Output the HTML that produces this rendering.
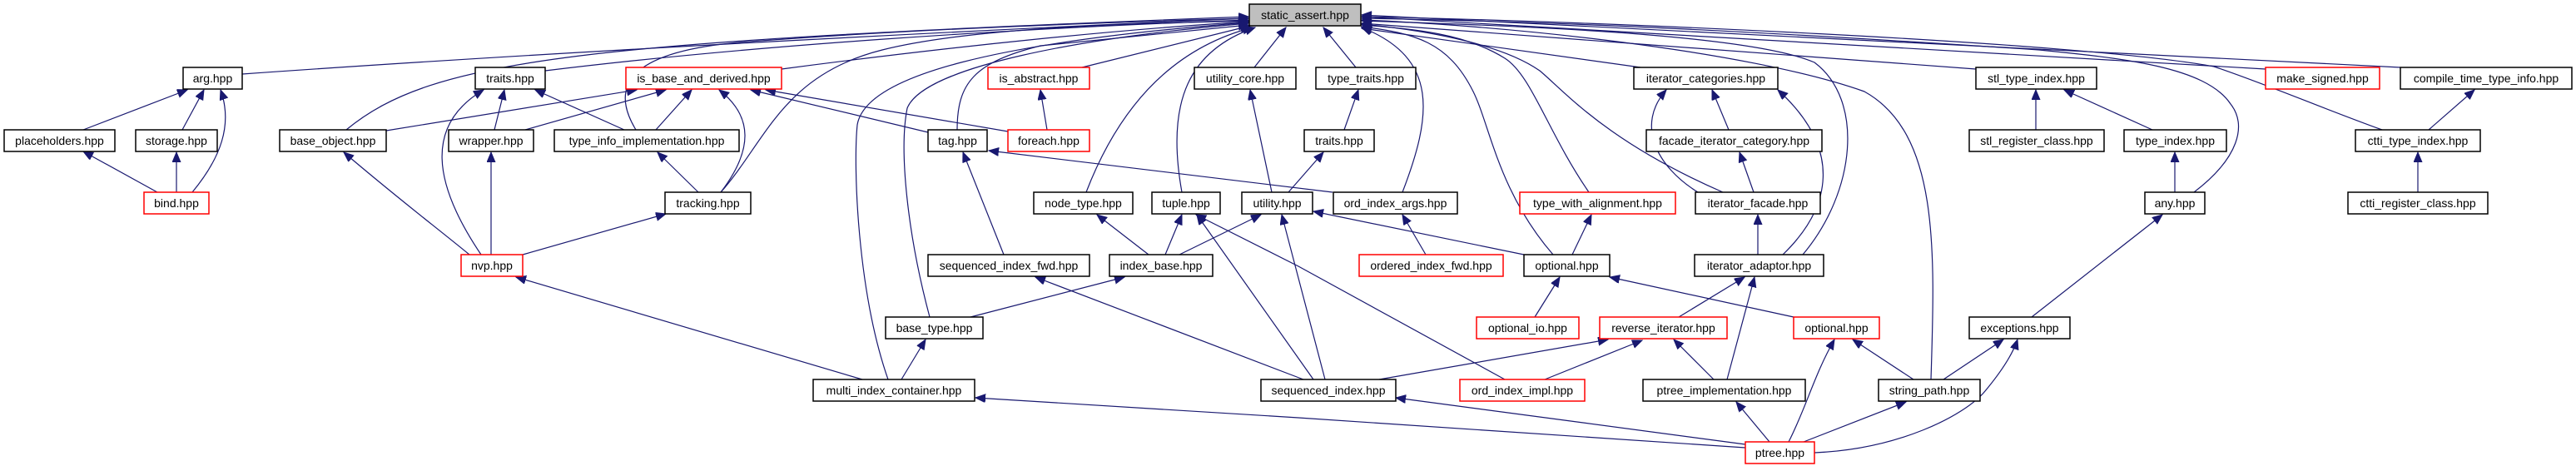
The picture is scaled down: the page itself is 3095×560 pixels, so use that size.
<!DOCTYPE html>
<html><head><meta charset="utf-8"><style>
html,body{margin:0;padding:0;background:#fff;}
svg{display:block;}
text{font-family:"Liberation Sans","DejaVu Sans",sans-serif;font-size:14px;fill:#000;text-anchor:middle;}
.b{fill:#fff;stroke:#000;stroke-width:1.5;}
.r{fill:#fff;stroke:#ff0000;stroke-width:1.5;}
.e{fill:none;stroke:#191970;stroke-width:1.2;marker-end:url(#a);}
</style></head><body>
<svg width="3095" height="560" viewBox="0 0 3095 560" xmlns="http://www.w3.org/2000/svg">
<defs><marker id="a" markerUnits="userSpaceOnUse" markerWidth="14" markerHeight="12" refX="12" refY="5" orient="auto"><path d="M0,0 L12,5 L0,10 z" fill="#191970" stroke="#191970"/></marker></defs>
<g>
<!-- edges to static_assert -->
<path class="e" d="M291,89 C700,60 1200,35 1500,22"/>
<path class="e" d="M655,85 C900,55 1200,35 1500,24"/>
<path class="e" d="M416,156 C520,70 700,50 1500,20"/>
<path class="e" d="M939,83 C1150,55 1350,35 1500,26"/>
<path class="e" d="M764,156 C730,100 760,60 900,50 C1100,35 1300,28 1500,22"/>
<path class="e" d="M866,231 C920,170 940,90 1060,60 S1400,28 1500,25"/>
<path class="e" d="M1067,456 C1030,350 1025,200 1030,150 C1040,90 1200,50 1500,27"/>
<path class="e" d="M1117,381 C1090,280 1080,180 1090,130 C1110,80 1300,45 1500,28"/>
<path class="e" d="M1150,156 C1150,100 1170,75 1250,55 L1500,30"/>
<path class="e" d="M1300,81 L1502,31"/>
<path class="e" d="M1305,231 C1340,140 1400,60 1505,33"/>
<path class="e" d="M1420,231 C1400,120 1430,60 1508,33"/>
<path class="e" d="M1507,81 L1545,33"/>
<path class="e" d="M1629,81 L1590,33"/>
<path class="e" d="M1685,231 C1720,140 1730,70 1636,33"/>
<path class="e" d="M1866,306 C1800,230 1790,150 1770,110 C1740,50 1700,40 1636,32"/>
<path class="e" d="M1909,231 C1860,160 1840,90 1808,70 C1760,40 1700,35 1636,30"/>
<path class="e" d="M2070,231 C1930,170 1880,110 1850,85 C1800,50 1700,35 1636,29"/>
<path class="e" d="M1971,81 L1636,34"/>
<path class="e" d="M2166,306 C2230,230 2240,120 2180,75 C2100,40 1800,30 1636,25"/>
<path class="e" d="M2320,456 C2325,300 2330,160 2240,110 C2100,60 1800,30 1636,24"/>
<path class="e" d="M2374,83 L1636,28"/>
<path class="e" d="M2636,231 C2690,190 2700,150 2680,125 C2650,80 2550,70 2450,60 C2000,30 1800,25 1636,22"/>
<path class="e" d="M2722,83 L1636,20"/>
<path class="e" d="M2862,156 C2790,130 2720,100 2660,80 C2500,50 1900,25 1636,20"/>
<path class="e" d="M2884,81 L1636,18"/>
<!-- other edges -->
<path class="e" d="M100,156 L225,108"/>
<path class="e" d="M219,156 L245,108"/>
<path class="e" d="M231,231 C265,190 280,150 265,108"/>
<path class="e" d="M189,231 L100,182"/>
<path class="e" d="M212,231 L212,183"/>
<path class="e" d="M464,157 L765,108"/>
<path class="e" d="M594,156 L606,108"/>
<path class="e" d="M631,156 L800,108"/>
<path class="e" d="M750,156 L643,108"/>
<path class="e" d="M788,156 L831,108"/>
<path class="e" d="M578,306 C520,220 510,150 581,108"/>
<path class="e" d="M590,306 L590,183"/>
<path class="e" d="M564,306 C520,270 480,240 413,183"/>
<path class="e" d="M628,306 L800,257"/>
<path class="e" d="M839,231 L790,183"/>
<path class="e" d="M866,231 C905,180 905,140 864,108"/>
<path class="e" d="M1115,159 L902,108"/>
<path class="e" d="M1211,158 L920,108"/>
<path class="e" d="M1258,156 L1250,108"/>
<path class="e" d="M1206,306 L1157,183"/>
<path class="e" d="M1601,231 L1188,181"/>
<path class="e" d="M1380,306 L1318,258"/>
<path class="e" d="M1400,306 L1420,258"/>
<path class="e" d="M1417,306 L1515,258"/>
<path class="e" d="M1166,381 L1351,333"/>
<path class="e" d="M1083,456 L1112,408"/>
<path class="e" d="M1036,456 L620,333"/>
<path class="e" d="M2097,538 L1560,502 L1172,478"/>
<path class="e" d="M1566,456 L1244,333"/>
<path class="e" d="M1578,456 L1438,258"/>
<path class="e" d="M1592,456 L1540,258"/>
<path class="e" d="M1808,456 L1560,320 L1437,258"/>
<path class="e" d="M2097,534 L1677,478"/>
<path class="e" d="M1528,231 L1502,108"/>
<path class="e" d="M1548,231 L1590,183"/>
<path class="e" d="M1615,156 L1632,108"/>
<path class="e" d="M1831,306 L1578,254"/>
<path class="e" d="M1889,306 L1912,258"/>
<path class="e" d="M1713,306 L1685,258"/>
<path class="e" d="M1844,381 L1874,333"/>
<path class="e" d="M2155,381 L1934,333"/>
<path class="e" d="M2017,381 L2096,333"/>
<path class="e" d="M1657,456 L1932,408"/>
<path class="e" d="M1856,456 L1973,409"/>
<path class="e" d="M2059,456 L2011,408"/>
<path class="e" d="M2075,456 L2108,333"/>
<path class="e" d="M2126,531 L2086,483"/>
<path class="e" d="M2149,531 C2170,490 2180,450 2204,408"/>
<path class="e" d="M2299,456 L2226,408"/>
<path class="e" d="M2167,531 L2290,483"/>
<path class="e" d="M2180,544 C2280,540 2360,500 2385,470 C2410,440 2420,420 2424,408"/>
<path class="e" d="M2335,456 L2407,408"/>
<path class="e" d="M2441,381 L2598,258"/>
<path class="e" d="M2040,231 C1990,200 1965,150 2002,108"/>
<path class="e" d="M2107,231 L2090,183"/>
<path class="e" d="M2077,156 L2057,108"/>
<path class="e" d="M2112,306 L2112,258"/>
<path class="e" d="M2142,306 C2200,250 2215,180 2136,108"/>
<path class="e" d="M2446,156 L2446,108"/>
<path class="e" d="M2586,156 L2480,108"/>
<path class="e" d="M2613,231 L2613,183"/>
<path class="e" d="M2918,156 L2973,108"/>
<path class="e" d="M2905,231 L2905,183"/>
</g>
<g>
<rect x="1501" y="5" width="134" height="26" fill="#bfbfbf" stroke="#000" stroke-width="1.5"/><text x="1568" y="23">static_assert.hpp</text>
<rect class="b" x="220" y="81" width="71" height="26"/><text x="255.5" y="99">arg.hpp</text>
<rect class="b" x="571" y="81" width="84" height="26"/><text x="613" y="99">traits.hpp</text>
<rect class="r" x="752" y="81" width="187" height="26"/><text x="845.5" y="99">is_base_and_derived.hpp</text>
<rect class="r" x="1187" y="81" width="122" height="26"/><text x="1248" y="99">is_abstract.hpp</text>
<rect class="b" x="1435" y="81" width="122" height="26"/><text x="1496" y="99">utility_core.hpp</text>
<rect class="b" x="1581" y="81" width="120" height="26"/><text x="1641" y="99">type_traits.hpp</text>
<rect class="b" x="1963" y="81" width="173" height="26"/><text x="2049.5" y="99">iterator_categories.hpp</text>
<rect class="b" x="2374" y="81" width="145" height="26"/><text x="2446.5" y="99">stl_type_index.hpp</text>
<rect class="r" x="2722" y="81" width="137" height="26"/><text x="2790.5" y="99">make_signed.hpp</text>
<rect class="b" x="2884" y="81" width="206" height="26"/><text x="2987" y="99">compile_time_type_info.hpp</text>

<rect class="b" x="5" y="156" width="133" height="26"/><text x="71.5" y="174">placeholders.hpp</text>
<rect class="b" x="163" y="156" width="98" height="26"/><text x="212" y="174">storage.hpp</text>
<rect class="b" x="336" y="156" width="128" height="26"/><text x="400" y="174">base_object.hpp</text>
<rect class="b" x="539" y="156" width="102" height="26"/><text x="590" y="174">wrapper.hpp</text>
<rect class="b" x="666" y="156" width="222" height="26"/><text x="777" y="174">type_info_implementation.hpp</text>
<rect class="b" x="1115" y="156" width="71" height="26"/><text x="1150.5" y="174">tag.hpp</text>
<rect class="r" x="1211" y="156" width="98" height="26"/><text x="1260" y="174">foreach.hpp</text>
<rect class="b" x="1567" y="156" width="84" height="26"/><text x="1609" y="174">traits.hpp</text>
<rect class="b" x="1978" y="156" width="211" height="26"/><text x="2083.5" y="174">facade_iterator_category.hpp</text>
<rect class="b" x="2366" y="156" width="162" height="26"/><text x="2447" y="174">stl_register_class.hpp</text>
<rect class="b" x="2552" y="156" width="123" height="26"/><text x="2613.5" y="174">type_index.hpp</text>
<rect class="b" x="2830" y="156" width="150" height="26"/><text x="2905" y="174">ctti_type_index.hpp</text>

<rect class="r" x="173" y="231" width="78" height="26"/><text x="212" y="249">bind.hpp</text>
<rect class="b" x="799" y="231" width="103" height="26"/><text x="850.5" y="249">tracking.hpp</text>
<rect class="b" x="1242" y="231" width="119" height="26"/><text x="1301.5" y="249">node_type.hpp</text>
<rect class="b" x="1384" y="231" width="82" height="26"/><text x="1425" y="249">tuple.hpp</text>
<rect class="b" x="1492" y="231" width="85" height="26"/><text x="1534.5" y="249">utility.hpp</text>
<rect class="b" x="1602" y="231" width="149" height="26"/><text x="1676.5" y="249">ord_index_args.hpp</text>
<rect class="r" x="1826" y="231" width="187" height="26"/><text x="1919.5" y="249">type_with_alignment.hpp</text>
<rect class="b" x="2037" y="231" width="150" height="26"/><text x="2112" y="249">iterator_facade.hpp</text>
<rect class="b" x="2577" y="231" width="72" height="26"/><text x="2613" y="249">any.hpp</text>
<rect class="b" x="2821" y="231" width="168" height="26"/><text x="2905" y="249">ctti_register_class.hpp</text>

<rect class="r" x="554" y="306" width="74" height="26"/><text x="591" y="324">nvp.hpp</text>
<rect class="b" x="1115" y="306" width="194" height="26"/><text x="1212" y="324">sequenced_index_fwd.hpp</text>
<rect class="b" x="1333" y="306" width="124" height="26"/><text x="1395" y="324">index_base.hpp</text>
<rect class="r" x="1633" y="306" width="173" height="26"/><text x="1719.5" y="324">ordered_index_fwd.hpp</text>
<rect class="b" x="1831" y="306" width="103" height="26"/><text x="1882.5" y="324">optional.hpp</text>
<rect class="b" x="2036" y="306" width="155" height="26"/><text x="2113.5" y="324">iterator_adaptor.hpp</text>

<rect class="b" x="1064" y="381" width="117" height="26"/><text x="1122.5" y="399">base_type.hpp</text>
<rect class="r" x="1774" y="381" width="123" height="26"/><text x="1835.5" y="399">optional_io.hpp</text>
<rect class="r" x="1922" y="381" width="153" height="26"/><text x="1998.5" y="399">reverse_iterator.hpp</text>
<rect class="r" x="2155" y="381" width="103" height="26"/><text x="2206.5" y="399">optional.hpp</text>
<rect class="b" x="2366" y="381" width="121" height="26"/><text x="2426.5" y="399">exceptions.hpp</text>

<rect class="b" x="977" y="456" width="194" height="26"/><text x="1074" y="474">multi_index_container.hpp</text>
<rect class="b" x="1515" y="456" width="162" height="26"/><text x="1596" y="474">sequenced_index.hpp</text>
<rect class="r" x="1754" y="456" width="150" height="26"/><text x="1829" y="474">ord_index_impl.hpp</text>
<rect class="b" x="1974" y="456" width="195" height="26"/><text x="2071.5" y="474">ptree_implementation.hpp</text>
<rect class="b" x="2257" y="456" width="122" height="26"/><text x="2318" y="474">string_path.hpp</text>

<rect class="r" x="2097" y="531" width="83" height="26"/><text x="2138.5" y="549">ptree.hpp</text>
</g>
</svg>
</body></html>
